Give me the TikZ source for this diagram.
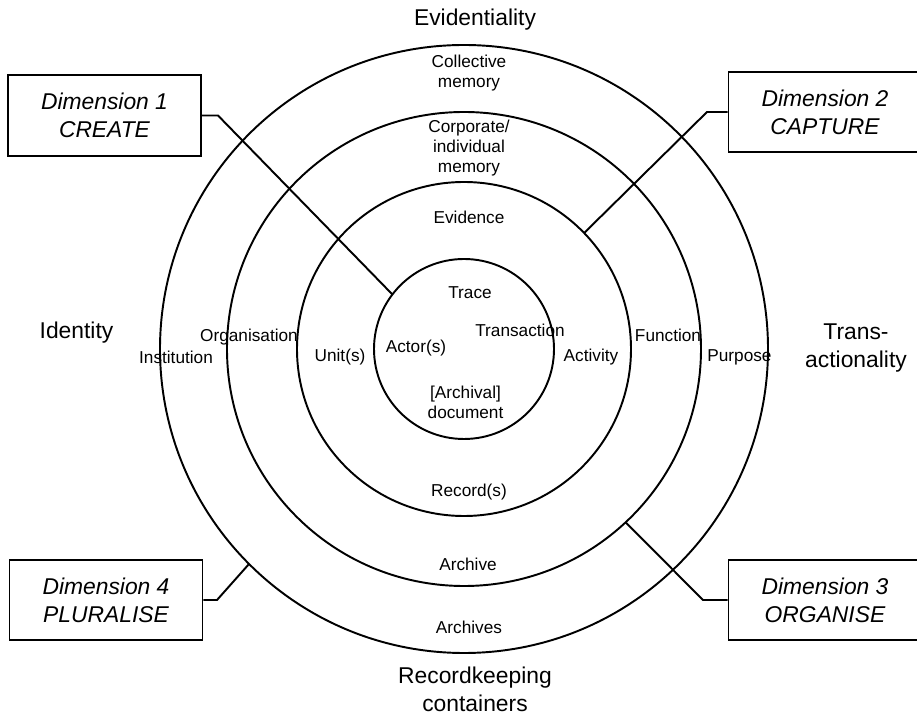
\documentclass[tikz,border=0pt]{standalone}
\usepackage{fontspec}
\setmainfont{Liberation Sans}

\begin{document}
\begin{tikzpicture}[line width=1.1pt,
  small/.style={font=\fontsize{9.8}{11.4}\selectfont, align=center, inner sep=0pt},
  big/.style={font=\fontsize{13}{16}\selectfont, align=center, inner sep=0pt},
  dimbox/.style={draw, minimum width=3.86cm, minimum height=1.61cm, inner sep=0pt,
    font=\fontsize{13}{16}\selectfont\itshape, align=center}]
\clip (-9.28,-7.32) rectangle (9.06,6.98);

% rings
\coordinate (O) at (0,0);
\draw (O) circle (1.8);
\draw (O) circle (3.34);
\draw (O) circle (4.74);
\draw (O) circle (6.08);

% dimension boxes
\node[dimbox] (dim1) at (-7.19,4.67) {Dimension 1\\CREATE};
\node[dimbox] (dim2) at (7.22,4.74) {Dimension 2\\CAPTURE};
\node[dimbox] (dim3) at (7.22,-5.02) {Dimension 3\\ORGANISE};
\node[dimbox] (dim4) at (-7.16,-5.02) {Dimension 4\\PLURALISE};

% connectors
\coordinate (c1) at (-4.92,4.67);
\coordinate (e1) at (142.7:1.8);
\coordinate (c2) at (4.86,4.74);
\coordinate (e2) at (44:3.34);
\coordinate (c3) at (4.78,-5.02);
\coordinate (e3) at (-47:4.74);
\coordinate (c4) at (-4.94,-5.02);
\coordinate (e4) at (225:6.08);
\draw (dim1.east) -- (c1) -- (e1);
\draw (dim2.west) -- (c2) -- (e2);
\draw (dim3.west) -- (c3) -- (e3);
\draw (dim4.east) -- (c4) -- (e4);

% axis labels
\node[big] (evid) at (0.22,6.58) {Evidentiality};
\node[big] (ident) at (-7.75,0.32) {Identity};
\node[big] (trans) at (7.84,0.02) {Trans-\\actionality};
\node[big] (cont) at (0.22,-6.80) {Recordkeeping\\containers};

% ring labels
\node[small] (colmem) at (0.10,5.52) {Collective\\memory};
\node[small] (cormem) at (0.10,4.02) {Corporate/\\individual\\memory};
\node[small] (evidence) at (0.10,2.64) {Evidence};
\node[small] (trace) at (0.12,1.12) {Trace};
\node[small] (transact) at (1.12,0.38) {Transaction};
\node[small] (actor) at (-0.96,0.02) {Actor(s)};
\node[small] (unit) at (-2.48,-0.16) {Unit(s)};
\node[small] (activity) at (2.54,-0.16) {Activity};
\node[small] (doc) at (0.03,-1.06) {[Archival]\\document};
\node[small] (record) at (0.10,-2.86) {Record(s)};
\node[small] (archive) at (0.08,-4.30) {Archive};
\node[small] (archives) at (0.10,-5.56) {Archives};
\node[small] (organ) at (-4.30,0.24) {Organisation};
\node[small] (instit) at (-5.76,-0.16) {Institution};
\node[small] (func) at (4.08,0.28) {Function};
\node[small] (purp) at (5.51,-0.16) {Purpose};
\end{tikzpicture}
\end{document}
